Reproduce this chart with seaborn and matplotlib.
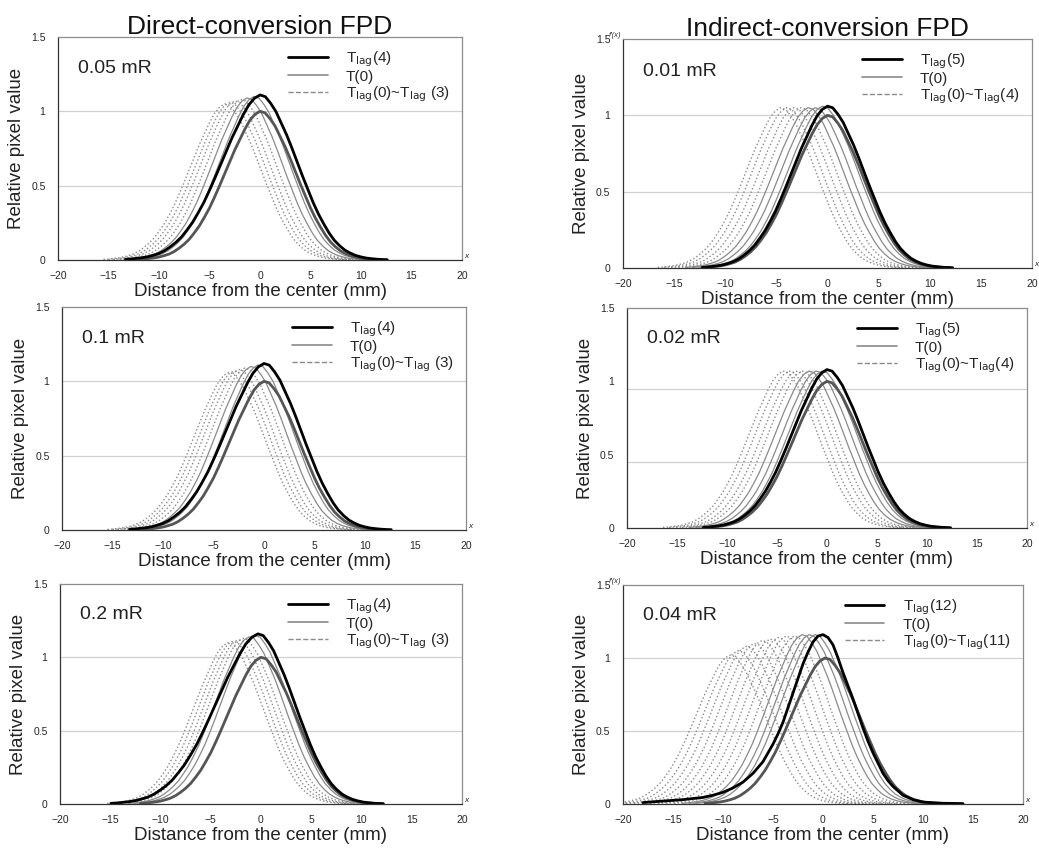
import matplotlib
matplotlib.use('Agg')
import matplotlib.pyplot as plt
from matplotlib.lines import Line2D
import seaborn as sns
import numpy as np

sns.set_style('white')
plt.rcParams['font.family'] = ['Liberation Sans', 'DejaVu Sans']

# T(0) profile (height 1, centre 0), 0.5 mm steps
base_x = [v / 2 for v in range(-24, 25)]
base_y = [0.004, 0.006, 0.01, 0.014, 0.02, 0.029, 0.04, 0.057, 0.08, 0.107, 0.14, 0.183,
          0.23, 0.288, 0.35, 0.423, 0.50, 0.58, 0.66, 0.74, 0.81, 0.88, 0.94, 0.98, 1.00,
          0.99, 0.95, 0.90, 0.83, 0.76, 0.68, 0.595, 0.51, 0.43, 0.35, 0.28, 0.22, 0.165,
          0.12, 0.087, 0.06, 0.042, 0.028, 0.019, 0.012, 0.008, 0.005, 0.003, 0.002]

# thick black Tlag(N): peak height, left / right widening vs T(0)
tlag_peak = [1.11, 1.06, 1.12, 1.08, 1.16]
tlag_left = [1.11, 1.02, 1.11, 1.03, 1.22]
tlag_right = [1.05, 1.02, 1.05, 1.03, 1.04]
tlag_shift = [0.0, 0.0, 0.0, 0.0, -0.3]

# 0.04 mR Tlag(12) has a long left tail, read point by point
p6_x = [-18, -16, -14, -12, -11, -10, -9, -8, -7.5, -7, -6.5, -6, -5.5, -5, -4.5, -4,
        -3.5, -3, -2.5, -2, -1.5, -1, -0.5, 0, 0.5, 1, 1.5, 2, 2.5, 3, 3.5, 4, 4.5, 5,
        5.5, 6, 6.5, 7, 7.5, 8, 9, 10, 12, 14]
p6_tlag = [0.01, 0.02, 0.03, 0.045, 0.06, 0.08, 0.11, 0.15, 0.18, 0.21, 0.25, 0.29, 0.35,
           0.41, 0.48, 0.56, 0.66, 0.76, 0.86, 0.96, 1.04, 1.11, 1.15, 1.16, 1.14, 1.09,
           1.00, 0.90, 0.81, 0.72, 0.62, 0.52, 0.43, 0.35, 0.28, 0.21, 0.16, 0.12, 0.09,
           0.06, 0.03, 0.013, 0.005, 0.003]

# intermediate lag curves: peak position, peak height, line style
p1_cen = [-0.6, -1.3, -1.9, -2.5, -3.0, -3.5]
p1_hgt = [1.10, 1.09, 1.08, 1.07, 1.06, 1.05]
p3_cen = [-0.6, -1.3, -1.9, -2.5, -3.0, -3.5]
p3_hgt = [1.11, 1.10, 1.09, 1.08, 1.07, 1.06]
p5_cen = [-0.6, -1.2, -1.8, -2.3, -2.8, -3.3]
p5_hgt = [1.15, 1.14, 1.13, 1.12, 1.11, 1.10]
p2_cen = [-0.5, -1.2, -1.9, -2.6, -3.3, -4.0, -4.6]
p2_hgt = [1.06, 1.05, 1.05, 1.05, 1.05, 1.05, 1.05]
p4_cen = [-0.5, -1.1, -1.8, -2.5, -3.1, -3.8, -4.4]
p4_hgt = [1.07, 1.07, 1.07, 1.07, 1.07, 1.07, 1.07]
p6_cen = [-0.8, -1.4, -2.1, -2.9, -3.7, -4.5, -5.3, -6.1, -6.9, -7.7, -8.5, -9.3]
p6_hgt = [1.16, 1.16, 1.16, 1.15, 1.15, 1.14, 1.13, 1.12, 1.10, 1.08, 1.05, 1.02]
sty_left = ['-', '-', ':', ':', ':', ':']
sty_right = ['-', '-', '-', ':', ':', ':', ':']
sty_p6 = ['-', '-', '-', ':', ':', ':', ':', ':', ':', ':', ':', ':']

labs_d = ['T$_{\\rm lag}$(4)', 'T(0)', 'T$_{\\rm lag}$(0)~T$_{\\rm lag}$ (3)']
labs_i = ['T$_{\\rm lag}$(5)', 'T(0)', 'T$_{\\rm lag}$(0)~T$_{\\rm lag}$(4)']
labs_6 = ['T$_{\\rm lag}$(12)', 'T(0)', 'T$_{\\rm lag}$(0)~T$_{\\rm lag}$(11)']

# panel boxes in pixels: left, top, right, bottom
panels = [
    dict(pos=[58, 37, 462, 260], dose='0.05 mR', k=0, t0c=0.0, cen=p1_cen, hgt=p1_hgt,
         sty=sty_left, labs=labs_d, grid=[0.5, 1.0], title='Direct-conversion FPD', fx=False),
    dict(pos=[623, 39, 1032, 268], dose='0.01 mR', k=1, t0c=0.0, cen=p2_cen, hgt=p2_hgt,
         sty=sty_right, labs=labs_i, grid=[0.5, 1.0], title='Indirect-conversion FPD', fx=True),
    dict(pos=[62, 307, 466, 530], dose='0.1 mR', k=2, t0c=0.0, cen=p3_cen, hgt=p3_hgt,
         sty=sty_left, labs=labs_d, grid=[0.5, 1.0], title=None, fx=False),
    dict(pos=[627, 308, 1027, 528], dose='0.02 mR', k=3, t0c=0.0, cen=p4_cen, hgt=p4_hgt,
         sty=sty_right, labs=labs_i, grid=[0.45, 0.95], title=None, fx=False),
    dict(pos=[60, 584, 462, 804], dose='0.2 mR', k=4, t0c=0.0, cen=p5_cen, hgt=p5_hgt,
         sty=sty_left, labs=labs_d, grid=[0.5, 1.0], title=None, fx=False),
    dict(pos=[623, 585, 1023, 804], dose='0.04 mR', k=None, t0c=0.2, cen=p6_cen, hgt=p6_hgt,
         sty=sty_p6, labs=labs_6, grid=[0.5, 1.0], title=None, fx=True),
]

W, H = 1039, 850
fig = plt.figure(figsize=(W / 100, H / 100), dpi=100)

bx = np.array(base_x, dtype=float)
by = np.array(base_y)

for p in panels:
    l, t, r, b = p['pos']
    ax = fig.add_axes([l / W, 1 - b / H, (r - l) / W, (b - t) / H])
    for g in p['grid']:
        ax.axhline(g, color='#d0d0d0', lw=0.9, zorder=0)
    # lag curves
    for c, h, s in zip(p['cen'], p['hgt'], p['sty']):
        lw = 0.9 if s == '-' else 1.0
        sns.lineplot(x=bx + c, y=by * h, ax=ax, color='#8a8a8a', lw=lw, linestyle=s,
                     sort=False, estimator=None)
    # T(0)
    sns.lineplot(x=bx + p['t0c'], y=by, ax=ax, color='#555555', lw=2.0, sort=False,
                 estimator=None)
    # Tlag(N)
    k = p['k']
    if k is None:
        tx, ty = p6_x, p6_tlag
    else:
        tx = np.where(bx < 0, bx * tlag_left[k], bx * tlag_right[k]) + tlag_shift[k]
        ty = by * tlag_peak[k]
    sns.lineplot(x=tx, y=ty, ax=ax, color='black', lw=2.0, sort=False, estimator=None)

    ax.set_xlim(-20, 20)
    ax.set_ylim(0, 1.5)
    ax.set_xticks(range(-20, 21, 5))
    ax.set_xticklabels(['−20', '−15', '−10', '−5', '0', '5', '10', '15', '20'])
    ax.set_yticks([0, 0.5, 1, 1.5])
    ax.set_yticklabels(['0', '0.5', '1', '1.5'])
    ax.tick_params(axis='both', labelsize=7.5, direction='in', length=3, width=0.6, pad=8)
    ax.tick_params(axis='y', length=0, pad=9)
    for sp in ax.spines.values():
        sp.set_color('#8c8c8c')
        sp.set_linewidth(0.9)
    ax.spines['bottom'].set_color('#333333')
    ax.spines['left'].set_color('#333333')
    ax.set_xlabel('Distance from the center (mm)', fontsize=13.5, color='#222222', labelpad=1)
    ax.set_ylabel('Relative pixel value', fontsize=13.5, color='#222222', labelpad=4)
    ax.text(0.05, 0.86, p['dose'], transform=ax.transAxes, fontsize=14, color='#222222',
            va='center', ha='left')
    ax.text(1.005, 0.0, 'x', transform=ax.transAxes, fontsize=6, style='italic', va='bottom')
    if p['fx']:
        ax.text(-0.005, 1.0, "f'(x)", transform=ax.transAxes, fontsize=5.5, style='italic',
                va='bottom', ha='right', color='#333333')

    handles = [Line2D([0], [0], color='black', lw=2.0),
               Line2D([0], [0], color='#8a8a8a', lw=1.2),
               Line2D([0], [0], color='#8a8a8a', lw=1.0, linestyle='--')]
    ax.legend(handles, p['labs'], loc='upper right', bbox_to_anchor=(1.0, 1.0),
              frameon=False, fontsize=11, handlelength=2.6, labelspacing=0.05,
              handletextpad=1.2, borderaxespad=0.4)
    if p['title']:
        ax.set_title(p['title'], fontsize=19, pad=2, color='#111111')

fig.savefig('out.png', dpi=100)
